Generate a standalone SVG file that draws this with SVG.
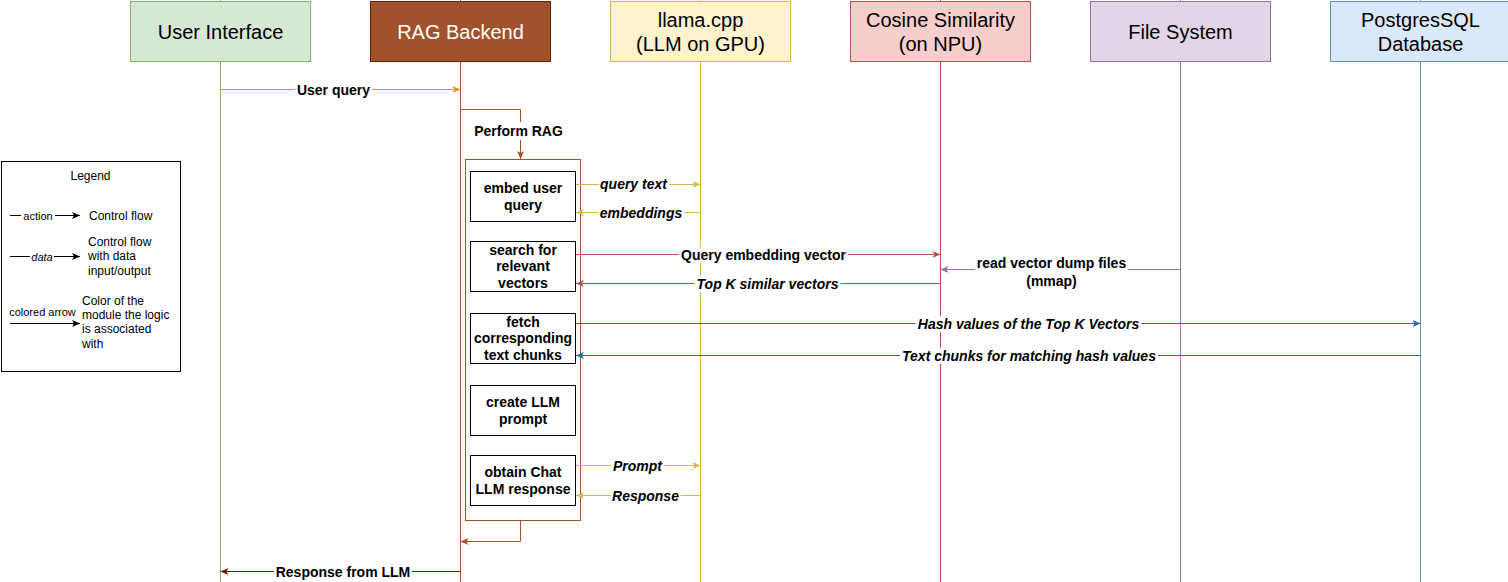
<svg xmlns="http://www.w3.org/2000/svg" width="1508" height="582" viewBox="0 0 1508 582">
<style>
text{font-family:"Liberation Sans",Arial,Helvetica,sans-serif;fill:#000}
.hdr{font-size:20px;text-anchor:middle}
.lbl{font-size:14px;font-weight:bold;text-anchor:middle}
.it{font-style:italic}
.btx{font-size:14px;font-weight:bold;text-anchor:middle}
.lg{font-size:12px}
.lgs{font-size:11px;text-anchor:middle}
.box{fill:#fff;stroke:#000;stroke-width:1}
.bg{fill:#fff}
.ln{fill:none;stroke-width:1}
</style>
<defs>
<marker id="aGold" viewBox="0 0 8 7" refX="8" refY="3.5" markerWidth="8" markerHeight="7" markerUnits="userSpaceOnUse" orient="auto"><path d="M0,0 L8,3.5 L0,7 L2,3.5 z" fill="#d79b00"/></marker>
<marker id="aSienna" viewBox="0 0 8 7" refX="8" refY="3.5" markerWidth="8" markerHeight="7" markerUnits="userSpaceOnUse" orient="auto"><path d="M0,0 L8,3.5 L0,7 L2,3.5 z" fill="#a0522d"/></marker>
<marker id="aBrown" viewBox="0 0 8 7" refX="8" refY="3.5" markerWidth="8" markerHeight="7" markerUnits="userSpaceOnUse" orient="auto"><path d="M0,0 L8,3.5 L0,7 L2,3.5 z" fill="#6d1f00"/></marker>
<marker id="aYel" viewBox="0 0 8 7" refX="8" refY="3.5" markerWidth="8" markerHeight="7" markerUnits="userSpaceOnUse" orient="auto"><path d="M0,0 L8,3.5 L0,7 L2,3.5 z" fill="#d6b656"/></marker>
<marker id="aRed" viewBox="0 0 8 7" refX="8" refY="3.5" markerWidth="8" markerHeight="7" markerUnits="userSpaceOnUse" orient="auto"><path d="M0,0 L8,3.5 L0,7 L2,3.5 z" fill="#b85450"/></marker>
<marker id="aPur" viewBox="0 0 8 7" refX="8" refY="3.5" markerWidth="8" markerHeight="7" markerUnits="userSpaceOnUse" orient="auto"><path d="M0,0 L8,3.5 L0,7 L2,3.5 z" fill="#9673a6"/></marker>
<marker id="aBlue" viewBox="0 0 8 7" refX="8" refY="3.5" markerWidth="8" markerHeight="7" markerUnits="userSpaceOnUse" orient="auto"><path d="M0,0 L8,3.5 L0,7 L2,3.5 z" fill="#10739e"/></marker>
<marker id="aBlk" viewBox="0 0 8 7" refX="8" refY="3.5" markerWidth="8" markerHeight="7" markerUnits="userSpaceOnUse" orient="auto"><path d="M0,0 L8,3.5 L0,7 L2,3.5 z" fill="#000"/></marker>
</defs>
<rect width="1508" height="582" fill="#fff"/>

<g id="lifelines">
<line x1="220.5" y1="0" x2="220.5" y2="582" stroke="#82b366"/>
<line x1="460.5" y1="0" x2="460.5" y2="582" stroke="#a0522d"/>
<line x1="700.5" y1="0" x2="700.5" y2="582" stroke="#d6b656"/>
<line x1="940.5" y1="0" x2="940.5" y2="582" stroke="#b85450"/>
<line x1="1180.5" y1="0" x2="1180.5" y2="582" stroke="#9673a6"/>
<line x1="1420.5" y1="0" x2="1420.5" y2="582" stroke="#6c8ebf"/>
</g>

<g id="node-ui">
<rect x="130.5" y="1.5" width="180" height="60" fill="#d5e8d4" stroke="#82b366"/>
<text class="hdr" x="220.5" y="38.5">User Interface</text>
</g>
<g id="node-rag">
<rect x="370.5" y="1.5" width="180" height="60" fill="#a0522d" stroke="#6d1f00"/>
<text class="hdr" x="460.5" y="38.5" style="fill:#fff">RAG Backend</text>
</g>
<g id="node-llama">
<rect x="610.5" y="1.5" width="180" height="60" fill="#fff2cc" stroke="#d6b656"/>
<text class="hdr" x="700.5" y="26.5">llama.cpp</text>
<text class="hdr" x="700.5" y="51">(LLM on GPU)</text>
</g>
<g id="node-cosine">
<rect x="850.5" y="1.5" width="180" height="60" fill="#f8cecc" stroke="#b85450"/>
<text class="hdr" x="940.5" y="26.5">Cosine Similarity</text>
<text class="hdr" x="940.5" y="51">(on NPU)</text>
</g>
<g id="node-fs">
<rect x="1090.5" y="1.5" width="180" height="60" fill="#e1d5e7" stroke="#9673a6"/>
<text class="hdr" x="1180.5" y="38.5">File System</text>
</g>
<g id="node-pg">
<rect x="1330.5" y="1.5" width="180" height="60" fill="#dae8fc" stroke="#6c8ebf"/>
<text class="hdr" x="1420.5" y="26.5">PostgresSQL</text>
<text class="hdr" x="1420.5" y="51">Database</text>
</g>

<g id="node-activation">
<rect x="465.5" y="159.5" width="115" height="361" fill="#fff" stroke="#a0522d"/>
</g>
<g id="node-embed">
<rect class="box" x="470.5" y="171.5" width="105" height="50"/>
<text class="btx" x="523" y="193">embed user</text>
<text class="btx" x="523" y="210">query</text>
</g>
<g id="node-search">
<rect class="box" x="470.5" y="241.5" width="105" height="50"/>
<text class="btx" x="523" y="254.5">search for</text>
<text class="btx" x="523" y="271.3">relevant</text>
<text class="btx" x="523" y="288.1">vectors</text>
</g>
<g id="node-fetch">
<rect class="box" x="470.5" y="313.5" width="105" height="50"/>
<text class="btx" x="523" y="326.5">fetch</text>
<text class="btx" x="523" y="343.3">corresponding</text>
<text class="btx" x="523" y="360.1">text chunks</text>
</g>
<g id="node-prompt">
<rect class="box" x="470.5" y="385.5" width="105" height="50"/>
<text class="btx" x="523" y="407">create LLM</text>
<text class="btx" x="523" y="424">prompt</text>
</g>
<g id="node-obtain">
<rect class="box" x="470.5" y="455.5" width="105" height="50"/>
<text class="btx" x="523" y="477">obtain Chat</text>
<text class="btx" x="523" y="494">LLM response</text>
</g>

<g id="connectors">
<path class="ln" d="M220.5,89.5 H460.5" stroke="#d79b00" marker-end="url(#aGold)"/>
<rect class="bg" x="295" y="82" width="77" height="16"/>
<text class="lbl" x="333.5" y="94.5">User query</text>

<path class="ln" d="M460.5,109.5 H520.5 V159" stroke="#a0522d" marker-end="url(#aSienna)"/>
<rect class="bg" x="472" y="122" width="93" height="18"/>
<text class="lbl" x="518.5" y="136">Perform RAG</text>

<path class="ln" d="M520.5,521 V541.5 H460.5" stroke="#a0522d" marker-end="url(#aSienna)"/>

<path class="ln" d="M460.5,571.5 H220.5" stroke="#6d1f00" marker-end="url(#aBrown)"/>
<rect class="bg" x="274" y="563" width="138" height="17"/>
<text class="lbl" x="343" y="576.5">Response from LLM</text>

<path class="ln" d="M576,184.5 H700.5" stroke="#d6b656" marker-end="url(#aYel)"/>
<rect class="bg" x="599" y="177" width="70" height="15"/>
<text class="lbl it" x="633.5" y="189">query text</text>

<path class="ln" d="M700.5,212.5 H576" stroke="#d6b656" marker-end="url(#aYel)"/>
<rect class="bg" x="598" y="205" width="86" height="16"/>
<text class="lbl it" x="641" y="218">embeddings</text>

<path class="ln" d="M576,254.5 H940.5" stroke="#b85450" marker-end="url(#aRed)"/>
<rect class="bg" x="679" y="247" width="169" height="16"/>
<text class="lbl" x="763.5" y="259.5">Query embedding vector</text>

<path class="ln" d="M940.5,283.5 H576" stroke="#b85450" marker-end="url(#aRed)"/>
<rect class="bg" x="694.5" y="276" width="146" height="16"/>
<text class="lbl it" x="767.5" y="288.5">Top K similar vectors</text>

<path class="ln" d="M1180.5,269.5 H940.5" stroke="#9673a6" marker-end="url(#aPur)"/>
<rect class="bg" x="975" y="254" width="153" height="36"/>
<text class="lbl" x="1051.5" y="267.5">read vector dump files</text>
<text class="lbl" x="1051.5" y="286">(mmap)</text>

<path class="ln" d="M576,323.5 H1420.5" stroke="#10739e" marker-end="url(#aBlue)"/>
<rect class="bg" x="915.5" y="316" width="226" height="16"/>
<text class="lbl it" x="1028.5" y="328.5">Hash values of the Top K Vectors</text>

<path class="ln" d="M1420.5,355.5 H576" stroke="#10739e" marker-end="url(#aBlue)"/>
<rect class="bg" x="900" y="348" width="258" height="16"/>
<text class="lbl it" x="1029" y="360.5">Text chunks for matching hash values</text>

<path class="ln" d="M576,465.5 H700.5" stroke="#d6b656" marker-end="url(#aYel)"/>
<rect class="bg" x="611" y="458" width="53" height="16"/>
<text class="lbl it" x="637.5" y="470.5">Prompt</text>

<path class="ln" d="M700.5,495.5 H576" stroke="#d6b656" marker-end="url(#aYel)"/>
<rect class="bg" x="610.5" y="488" width="70" height="16"/>
<text class="lbl it" x="645.5" y="500.5">Response</text>
</g>

<g id="legend">
<rect x="1.5" y="161.5" width="179" height="210" fill="#fff" stroke="#000"/>
<text class="lg" x="90.5" y="180" text-anchor="middle">Legend</text>
<path class="ln" d="M10,215.5 H80" stroke="#000" marker-end="url(#aBlk)"/>
<rect class="bg" x="21" y="209" width="34" height="13"/>
<text class="lgs" x="38" y="219.5">action</text>
<text class="lg" x="89" y="220">Control flow</text>
<path class="ln" d="M10,256.5 H80" stroke="#000" marker-end="url(#aBlk)"/>
<rect class="bg" x="30" y="250" width="24" height="13"/>
<text class="lgs it" x="42" y="260.5">data</text>
<text class="lg" x="88" y="246">Control flow</text>
<text class="lg" x="88" y="260.4">with data</text>
<text class="lg" x="88" y="274.8">input/output</text>
<path class="ln" d="M10,323.5 H80" stroke="#000" marker-end="url(#aBlk)"/>
<text class="lgs" x="42.5" y="316">colored arrow</text>
<text class="lg" x="82" y="304.5">Color of the</text>
<text class="lg" x="82" y="319">module the logic</text>
<text class="lg" x="82" y="333.4">is associated</text>
<text class="lg" x="82" y="347.8">with</text>
</g>
</svg>
